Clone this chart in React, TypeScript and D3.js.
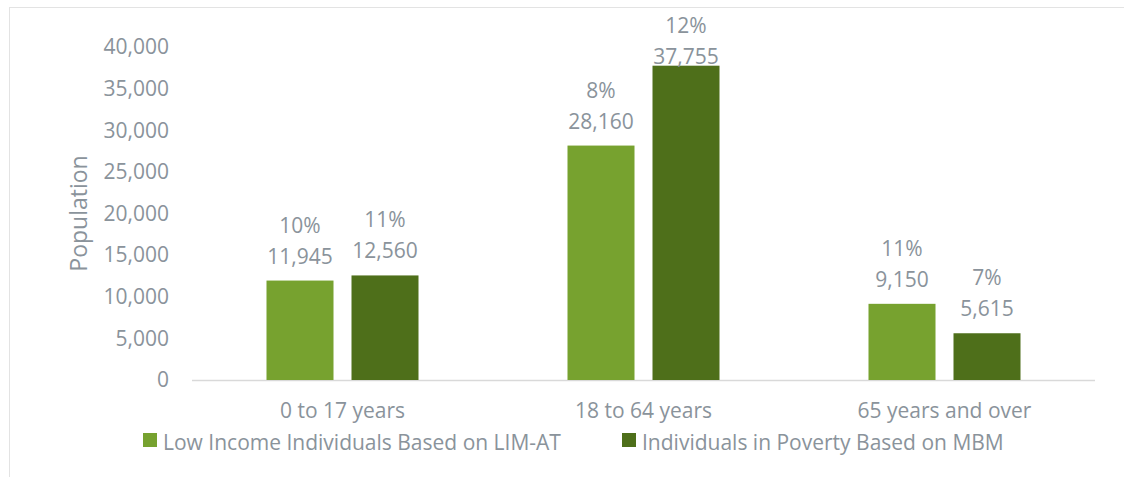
import { useEffect, useRef } from 'react';
import * as d3 from 'd3';

const categories = ['0 to 17 years', '18 to 64 years', '65 years and over'];
const seriesNames = [
  'Low Income Individuals Based on LIM-AT',
  'Individuals in Poverty Based on MBM',
];
const limValues = [11945, 28160, 9150];
const mbmValues = [12560, 37755, 5615];
const limPercents = ['10%', '8%', '11%'];
const mbmPercents = ['11%', '12%', '7%'];
const yTicks = [0, 5000, 10000, 15000, 20000, 25000, 30000, 35000, 40000];

const COLORS = ['#77A22F', '#4E6F1A'];
const TEXT = '#8A939B';
const FONT = '"Open Sans", sans-serif';

export default function App() {
  const svgRef = useRef<SVGSVGElement>(null);
  const width = 1124;
  const height = 477;

  useEffect(() => {
    if (!svgRef.current) return;
    const svg = d3.select(svgRef.current);
    svg.selectAll('*').remove();

    const margin = { top: 47, right: 29, bottom: 97, left: 192 };
    const x0 = margin.left;
    const x1 = width - margin.right;
    const yBase = height - margin.bottom;

    // Outer frame (only left + top visible)
    svg.append('line')
      .attr('x1', 9.5).attr('x2', 9.5).attr('y1', 7).attr('y2', height)
      .attr('stroke', '#e3e3e3');
    svg.append('line')
      .attr('x1', 9).attr('x2', width).attr('y1', 7.5).attr('y2', 7.5)
      .attr('stroke', '#e3e3e3');

    const xScale = d3.scaleBand().domain(categories).range([x0, x1]);
    const yScale = d3.scaleLinear().domain([0, 40000]).range([yBase, margin.top]);

    const series = [
      { name: seriesNames[0], values: limValues, pct: limPercents, color: COLORS[0] },
      { name: seriesNames[1], values: mbmValues, pct: mbmPercents, color: COLORS[1] },
    ];

    const barW = 67;
    const gap = 18;
    const inner = d3.scaleBand<number>()
      .domain([0, 1])
      .range([0, barW * 2 + gap])
      .paddingInner(gap / (barW + gap));

    const g = svg.append('g');

    // baseline
    g.append('line')
      .attr('x1', x0).attr('x2', x1)
      .attr('y1', yBase + 0.5).attr('y2', yBase + 0.5)
      .attr('stroke', '#d9d9d9').attr('stroke-width', 1.5);

    // y tick labels
    g.selectAll('.ytick')
      .data(yTicks)
      .join('text')
      .attr('x', 169)
      .attr('y', (d) => yScale(d))
      .attr('dy', '0.35em')
      .attr('text-anchor', 'end')
      .attr('font-family', FONT)
      .attr('font-size', '21px')
      .attr('fill', TEXT)
      .text((d) => d3.format(',')(d));

    // y title
    g.append('text')
      .attr('transform', `translate(87,${(yBase + margin.top) / 2}) rotate(-90)`)
      .attr('text-anchor', 'middle')
      .attr('font-family', FONT)
      .attr('font-size', '23px')
      .attr('fill', TEXT)
      .text('Population');

    series.forEach((s, si) => {
      const groupStart = (c: string) =>
        (xScale(c) || 0) + (xScale.bandwidth() - (barW * 2 + gap)) / 2;
      const cx = (c: string) => groupStart(c) + (inner(si) || 0) + inner.bandwidth() / 2;
      // labels sit 17px above the bar, but are kept inside the chart area
      const baseY = (i: number) => Math.max(yScale(s.values[i]) - 17, 64);

      g.selectAll(`.bar-${si}`)
        .data(categories)
        .join('rect')
        .attr('x', (c) => groupStart(c) + (inner(si) || 0))
        .attr('y', (c, i) => yScale(s.values[i]))
        .attr('width', inner.bandwidth())
        .attr('height', (c, i) => yBase - yScale(s.values[i]))
        .attr('fill', s.color);

      const labels = g.selectAll(`.lbl-${si}`)
        .data(categories)
        .join('text')
        .attr('x', (c) => cx(c))
        .attr('y', (c, i) => baseY(i))
        .attr('text-anchor', 'middle')
        .attr('font-family', FONT)
        .attr('font-size', '21px')
        .attr('fill', TEXT);
      labels.append('tspan')
        .attr('x', (c) => cx(c))
        .attr('dy', -31)
        .text((c, i) => s.pct[i]);
      labels.append('tspan')
        .attr('x', (c) => cx(c))
        .attr('dy', 31)
        .text((c, i) => d3.format(',')(s.values[i]));
    });

    // x labels
    g.selectAll('.xlbl')
      .data(categories)
      .join('text')
      .attr('x', (c) => (xScale(c) || 0) + xScale.bandwidth() / 2)
      .attr('y', 418)
      .attr('text-anchor', 'middle')
      .attr('font-family', FONT)
      .attr('font-size', '21px')
      .attr('fill', TEXT)
      .text((c) => c);

    // legend
    const legendX = [143, 622];
    series.forEach((s, i) => {
      g.append('rect')
        .attr('x', legendX[i]).attr('y', 433)
        .attr('width', 14).attr('height', 14)
        .attr('fill', s.color);
      g.append('text')
        .attr('x', legendX[i] + 20)
        .attr('y', 450)
        .attr('font-family', FONT)
        .attr('font-size', '21px')
        .attr('fill', TEXT)
        .text(s.name);
    });
  }, []);

  return (
    <svg
      ref={svgRef}
      width={width}
      height={height}
      style={{ position: 'absolute', left: 0, top: 0, background: '#fff' }}
    />
  );
}
